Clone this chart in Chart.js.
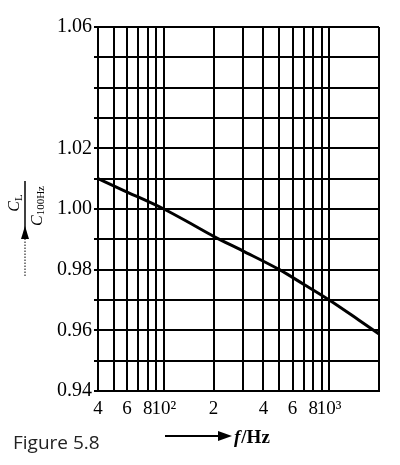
<!DOCTYPE html>
<html>
<head>
<meta charset="utf-8">
<script src="https://cdn.jsdelivr.net/npm/chart.js@4.4.1/dist/chart.umd.min.js"></script>
<style>
  html, body { margin: 0; padding: 0; background: #fff; }
  #wrap { position: relative; width: 400px; height: 465px; }
  #caption { position: absolute; left: 13px; top: 429px; font-family: "Open Sans", sans-serif; font-size: 19px; color: #222; line-height: normal; }
</style>
</head>
<body>
<div id="wrap">
  <canvas id="c" width="400" height="465"></canvas>
  <div id="caption">Figure 5.8</div>
</div>
<script>
// ---- data ----
const freqs = [40, 60, 100, 150, 200, 300, 500, 700, 1000, 1500, 2000];
const ratio = [1.010, 1.0056, 1.000, 0.9948, 0.9910, 0.9862, 0.9800, 0.9752, 0.9700, 0.9635, 0.9588];
const gridFreqs = [40, 50, 60, 70, 80, 90, 100, 200, 300, 400, 500, 600, 700, 800, 900, 1000, 2000];
const xLabelFreqs = [40, 60, 80, 100, 200, 400, 600, 800, 1000];
const xLabelText = ['4', '6', '8', '10²', '2', '4', '6', '8', '10³'];
const yLabelValues = [0.94, 0.96, 0.98, 1.00, 1.02, 1.06];
const yLabelText = ['0.94', '0.96', '0.98', '1.00', '1.02', '1.06'];
const yMin = 0.94, yMax = 1.06, yStep = 0.01;
const xMin = 40, xMax = 2000;

const titlePlugin = {
  id: 'titles',
  afterDraw(chart) {
    const ctx = chart.ctx;
    ctx.save();
    ctx.fillStyle = '#000';
    ctx.strokeStyle = '#000';
    // Y title: fraction C_L / C_100Hz rotated
    ctx.save();
    ctx.translate(25, 206);
    ctx.rotate(-Math.PI / 2);
    ctx.lineWidth = 1.5;
    ctx.beginPath(); ctx.moveTo(-25, 0); ctx.lineTo(25, 0); ctx.stroke();
    const big = 'italic 16px "Liberation Serif", serif';
    const sub = '11px "Liberation Serif", serif';
    // numerator
    ctx.font = big; const wC = ctx.measureText('C').width;
    ctx.font = sub; const wL = ctx.measureText('L').width;
    let x0 = -(wC + wL) / 2 + 3;
    ctx.textBaseline = 'alphabetic';
    ctx.font = big; ctx.fillText('C', x0, -6);
    ctx.font = sub; ctx.fillText('L', x0 + wC, -3);
    // denominator
    ctx.font = sub; const w100 = ctx.measureText('100Hz').width;
    x0 = -(wC + w100) / 2;
    ctx.font = big; ctx.fillText('C', x0, 17);
    ctx.font = sub; ctx.fillText('100Hz', x0 + wC, 19);
    ctx.restore();
    // arrow for y title
    ctx.lineWidth = 1;
    ctx.setLineDash([1.5, 1.5]);
    ctx.beginPath(); ctx.moveTo(25, 276); ctx.lineTo(25, 238); ctx.stroke();
    ctx.setLineDash([]);
    ctx.beginPath(); ctx.moveTo(25, 226); ctx.lineTo(21, 239); ctx.lineTo(29, 239); ctx.closePath(); ctx.fill();
    // X title: arrow + f/Hz
    ctx.lineWidth = 2;
    ctx.beginPath(); ctx.moveTo(165, 436); ctx.lineTo(220, 436); ctx.stroke();
    ctx.beginPath(); ctx.moveTo(232, 436); ctx.lineTo(218, 431); ctx.lineTo(218, 441); ctx.closePath(); ctx.fill();
    ctx.textBaseline = 'alphabetic';
    ctx.font = 'italic bold 19px "Liberation Serif", serif';
    ctx.fillText('f', 234, 443);
    const wf = ctx.measureText('f').width;
    ctx.font = 'bold 19px "Liberation Serif", serif';
    ctx.fillText('/Hz', 234 + wf + 1, 443);
    ctx.restore();
  }
};

new Chart(document.getElementById('c'), {
  type: 'line',
  data: {
    datasets: [{
      data: freqs.map((f, i) => ({ x: f, y: ratio[i] })),
      borderColor: '#000',
      borderWidth: 3,
      pointRadius: 0,
      cubicInterpolationMode: 'monotone',
      fill: false
    }]
  },
  options: {
    responsive: false,
    animation: false,
    devicePixelRatio: 1,
    layout: { padding: { top: 27, right: 21, left: 0, bottom: 0 } },
    plugins: { legend: { display: false }, tooltip: { enabled: false } },
    scales: {
      x: {
        type: 'logarithmic',
        min: xMin, max: xMax,
        afterBuildTicks(scale) { scale.ticks = gridFreqs.map(v => ({ value: v })); },
        afterFit(scale) { scale.height = 74; },
        grid: { color: '#000', lineWidth: 2, drawTicks: false },
        border: { color: '#000', width: 2 },
        ticks: {
          autoSkip: false, maxRotation: 0, minRotation: 0, padding: 7,
          color: '#000',
          font: { family: '"Liberation Serif", serif', size: 19 },
          callback(v) { const i = xLabelFreqs.indexOf(Math.round(v)); return i >= 0 ? xLabelText[i] : ''; }
        }
      },
      y: {
        min: yMin, max: yMax,
        afterFit(scale) { scale.width = 98; },
        grid: { color: '#000', lineWidth: 2, drawTicks: true, tickLength: 4 },
        border: { color: '#000', width: 2 },
        ticks: {
          stepSize: yStep, autoSkip: false, padding: 2, color: '#000',
          font: { family: '"Liberation Serif", serif', size: 20 },
          callback(v) {
            const i = yLabelValues.findIndex(t => Math.abs(t - v) < 1e-6);
            return i >= 0 ? yLabelText[i] : '';
          }
        }
      }
    }
  },
  plugins: [titlePlugin]
});
</script>
</body>
</html>
